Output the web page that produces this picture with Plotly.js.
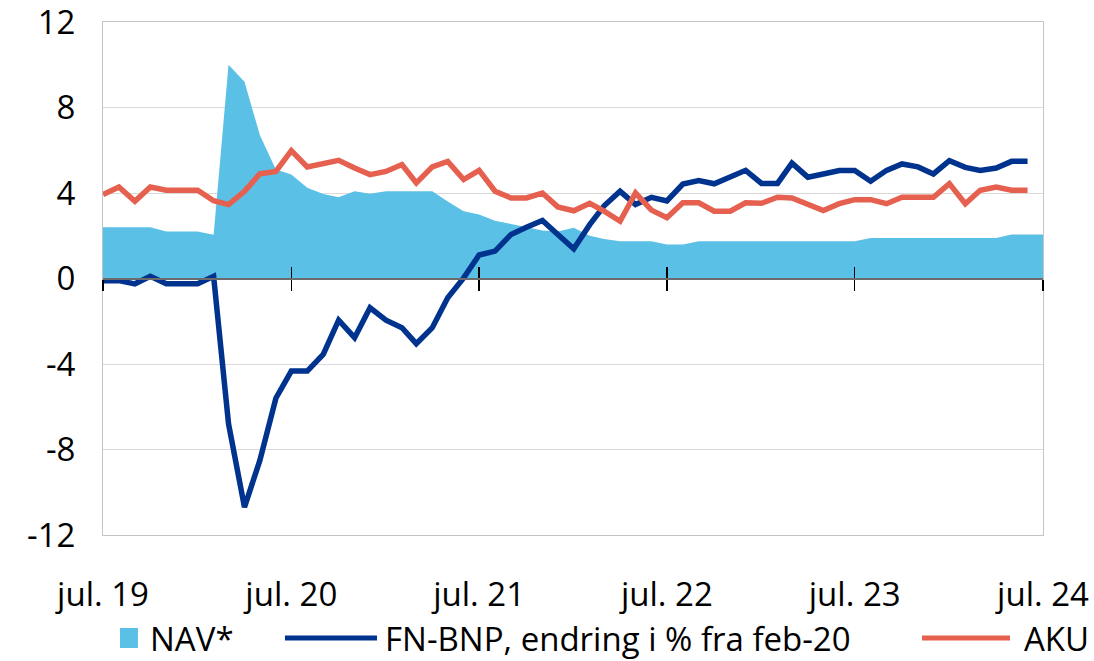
<!DOCTYPE html>
<html>
<head>
<meta charset="utf-8">
<script src="https://cdn.plot.ly/plotly-3.0.1.min.js"></script>
<style>html,body{margin:0;padding:0;background:#fff;}#chart{width:1094px;height:661px;}</style>
</head>
<body>
<div id="chart"></div>
<script>
// Months from jul. 2019
const navMonths = [];
for (let y = 2019, m = 7; navMonths.length < 61; m++) {
  if (m > 12) { m = 1; y++; }
  navMonths.push(y + '-' + String(m).padStart(2, '0') + '-01');
}
const lineMonths = navMonths.slice(0, 60);

const navValues = [2.4, 2.4, 2.4, 2.4, 2.2, 2.2, 2.2, 2.05, 10.0, 9.2, 6.7, 5.1,
  4.86, 4.25, 3.95, 3.8, 4.08, 3.96, 4.08, 4.08, 4.08, 4.08, 3.6, 3.15,
  3.0, 2.7, 2.55, 2.4, 2.25, 2.2, 2.37, 2.0, 1.85, 1.74, 1.74, 1.74,
  1.59, 1.59, 1.74, 1.74, 1.74, 1.74, 1.74, 1.74, 1.74, 1.74, 1.74, 1.74,
  1.74, 1.9, 1.9, 1.9, 1.9, 1.9, 1.9, 1.9, 1.9, 1.9, 2.06, 2.06, 2.06];

const bnpValues = [-0.1, -0.1, -0.25, 0.1, -0.25, -0.25, -0.25, 0.1, -6.8, -10.7, -8.5, -5.6,
  -4.33, -4.33, -3.55, -1.95, -2.77, -1.37, -1.95, -2.3, -3.05, -2.3, -0.9, 0.03,
  1.1, 1.28, 2.06, 2.4, 2.72, 2.06, 1.39, 2.52, 3.4, 4.08, 3.46, 3.8,
  3.63, 4.42, 4.58, 4.43, 4.75, 5.06, 4.45, 4.45, 5.4, 4.74, 4.89, 5.05,
  5.05, 4.55, 5.06, 5.36, 5.22, 4.89, 5.51, 5.2, 5.05, 5.17, 5.48, 5.48];

const akuValues = [3.93, 4.28, 3.61, 4.28, 4.13, 4.13, 4.13, 3.64, 3.46, 4.08, 4.9, 5.01,
  5.98, 5.22, 5.38, 5.53, 5.17, 4.86, 5.01, 5.33, 4.47, 5.22, 5.48, 4.63,
  5.06, 4.08, 3.77, 3.77, 4.0, 3.35, 3.17, 3.52, 3.15, 2.68, 4.0, 3.2,
  2.84, 3.54, 3.54, 3.15, 3.15, 3.54, 3.52, 3.8, 3.77, 3.46, 3.18, 3.5,
  3.69, 3.69, 3.5, 3.8, 3.8, 3.8, 4.44, 3.5, 4.13, 4.28, 4.13, 4.13];

const xTickVals = ['2019-07-01', '2020-07-01', '2021-07-01', '2022-07-01', '2023-07-01', '2024-07-01'];
const xTickText = ['jul. 19', 'jul. 20', 'jul. 21', 'jul. 22', 'jul. 23', 'jul. 24'];
const yTickVals = [-12, -8, -4, 0, 4, 8, 12];
const yTickText = ['-12', '-8', '-4', '0', '4', '8', '12'];

const seriesNames = ['NAV*', 'FN-BNP, endring i % fra feb-20', 'AKU'];
const colNav = '#5BC0E5', colBnp = '#00338D', colAku = '#E6604F';
const FONT = 'Open Sans';
const FS = 33;

const traces = [
  {x: navMonths, y: navValues, name: seriesNames[0], type: 'scatter', mode: 'lines',
   fill: 'tozeroy', fillcolor: colNav, line: {width: 0, color: colNav}, xaxis: 'x', yaxis: 'y', showlegend: false},
  {x: lineMonths, y: bnpValues, name: seriesNames[1], type: 'scatter', mode: 'lines',
   line: {width: 5.5, color: colBnp}, xaxis: 'x2', yaxis: 'y', showlegend: false},
  {x: lineMonths, y: akuValues, name: seriesNames[2], type: 'scatter', mode: 'lines',
   line: {width: 5.5, color: colAku}, xaxis: 'x3', yaxis: 'y', showlegend: false}
];

const xRange = ['2019-07-01', '2024-07-01'];
const tickAxis = (ticks) => ({
  type: 'date', overlaying: 'x', anchor: 'free', position: 0.5, range: xRange,
  tickmode: 'array', tickvals: xTickVals, showticklabels: false,
  ticks: ticks, ticklen: 11, tickwidth: 1.3, tickcolor: '#000',
  showgrid: false, zeroline: false, showline: true, linecolor: '#6b6b6b', linewidth: 2,
  layer: 'above traces'
});

const legY = -0.2008;
const layout = {
  width: 1094, height: 661,
  margin: {l: 103, r: 51, t: 22, b: 126},
  paper_bgcolor: '#fff', plot_bgcolor: '#fff',
  font: {family: FONT, size: FS, color: '#000'},
  showlegend: false,
  xaxis: {
    type: 'date', range: xRange, tickmode: 'array', tickvals: xTickVals, ticktext: xTickText,
    ticks: '', showgrid: false, zeroline: false, showline: true, mirror: true,
    linecolor: '#c4c4c4', linewidth: 1, ticklabelstandoff: 30, ticklabeloverflow: 'allow',
    tickfont: {family: FONT, size: FS, color: '#000'}
  },
  xaxis2: tickAxis('outside'),
  xaxis3: tickAxis('inside'),
  yaxis: {
    range: [-12, 12], tickmode: 'array', tickvals: yTickVals, ticktext: yTickText,
    showgrid: true, gridcolor: '#d9d9d9', gridwidth: 1, zeroline: false,
    showline: true, mirror: true, linecolor: '#c4c4c4', linewidth: 1,
    ticks: '', ticklabelstandoff: 20, ticklabeloverflow: 'allow',
    tickfont: {family: FONT, size: FS, color: '#000'}
  },
  shapes: [
    {type: 'rect', xref: 'paper', yref: 'paper', x0: 0.0181, x1: 0.0372, y0: -0.2203, y1: -0.1813,
     fillcolor: colNav, line: {width: 0}},
    {type: 'line', xref: 'paper', yref: 'paper', x0: 0.1936, x1: 0.2915, y0: legY, y1: legY,
     line: {color: colBnp, width: 5}},
    {type: 'line', xref: 'paper', yref: 'paper', x0: 0.8713, x1: 0.9649, y0: legY, y1: legY,
     line: {color: colAku, width: 5}}
  ],
  annotations: [
    {xref: 'paper', yref: 'paper', x: 0.0479, y: legY, xanchor: 'left', yanchor: 'middle',
     text: seriesNames[0], showarrow: false, font: {family: FONT, size: FS, color: '#000'}},
    {xref: 'paper', yref: 'paper', x: 0.2979, y: legY, xanchor: 'left', yanchor: 'middle',
     text: seriesNames[1], showarrow: false, font: {family: FONT, size: FS, color: '#000'}},
    {xref: 'paper', yref: 'paper', x: 0.9777, y: legY, xanchor: 'left', yanchor: 'middle',
     text: seriesNames[2], showarrow: false, font: {family: FONT, size: FS, color: '#000'}}
  ]
};

Plotly.newPlot('chart', traces, layout, {displayModeBar: false, staticPlot: true});
</script>
</body>
</html>
